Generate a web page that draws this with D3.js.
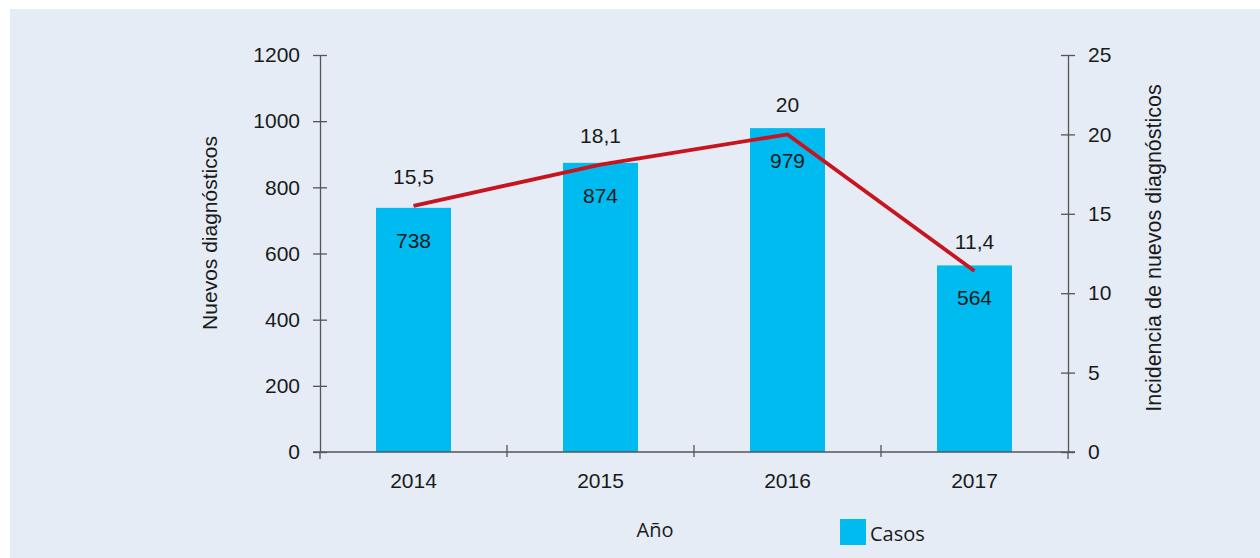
<!DOCTYPE html>
<html lang="es">
<head>
<meta charset="UTF-8">
<script src="https://d3js.org/d3.v7.min.js"></script>
<style>
  body { margin: 0; background: #fff; }
  text { font-family: "Liberation Sans", Arial, sans-serif; fill: #1a1a1a; }
</style>
</head>
<body>
<svg id="chart" width="1260" height="558"></svg>
<script>
// datos
var years = ['2014', '2015', '2016', '2017'];
var casos = [738, 874, 979, 564];
var incidencia = [15.5, 18.1, 20, 11.4];
var leftTicks = [0, 200, 400, 600, 800, 1000, 1200];
var rightTicks = [0, 5, 10, 15, 20, 25];

var svg = d3.select('#chart');
var fs = '21px';

svg.append('rect')
    .attr('x', 10).attr('y', 9)
    .attr('width', 1250).attr('height', 549)
    .attr('fill', '#e5ecf5');

var plotLeft = 320, plotRight = 1068, plotTop = 55, plotBottom = 452;

var x = d3.scaleBand().domain(years).range([plotLeft, plotRight]).paddingInner(0).paddingOuter(0);
var yL = d3.scaleLinear().domain([0, 1200]).range([plotBottom, plotTop]);
var yR = d3.scaleLinear().domain([0, 25]).range([plotBottom, plotTop]);

var barW = 75;

// barras
svg.selectAll('.bar')
    .data(casos)
    .enter().append('rect')
    .attr('class', 'bar')
    .attr('x', function(d, i){ return x(years[i]) + x.bandwidth()/2 - barW/2; })
    .attr('y', function(d){ return yL(d); })
    .attr('width', barW)
    .attr('height', function(d){ return plotBottom - yL(d); })
    .attr('fill', '#00bbf0');

// ejes
var axisColor = '#555';
function styleAxis(g){
    g.selectAll('path, line').attr('stroke', axisColor).attr('stroke-width', 1.3);
    g.selectAll('text').style('font-size', fs).attr('fill', '#1a1a1a');
}

var gL = svg.append('g')
    .attr('transform', 'translate(' + plotLeft + ',0)')
    .call(d3.axisLeft(yL).tickValues(leftTicks).tickFormat(d3.format('d'))
        .tickSize(7).tickSizeOuter(0).tickPadding(13));
gL.selectAll('.tick line').attr('x2', 7).attr('x1', -7);
styleAxis(gL);

var gR = svg.append('g')
    .attr('transform', 'translate(' + plotRight + ',0)')
    .call(d3.axisRight(yR).tickValues(rightTicks).tickFormat(d3.format('d'))
        .tickSize(7).tickSizeOuter(0).tickPadding(13));
gR.selectAll('.tick line').attr('x1', -7).attr('x2', 7);
styleAxis(gR);

var gX = svg.append('g')
    .attr('transform', 'translate(0,' + plotBottom + ')')
    .call(d3.axisBottom(x).tickSize(0).tickPadding(20));
gX.select('.domain').remove();
gX.append('line')
    .attr('x1', plotLeft - 7).attr('x2', plotRight + 7)
    .attr('stroke', axisColor).attr('stroke-width', 1.3);
// marcas entre categorías
var seps = years.slice(1).map(function(d){ return x(d); });
gX.selectAll('.sep')
    .data(seps)
    .enter().append('line')
    .attr('class', 'sep')
    .attr('x1', function(d){ return d; })
    .attr('x2', function(d){ return d; })
    .attr('y1', -7).attr('y2', 5)
    .attr('stroke', axisColor).attr('stroke-width', 1.3);
gX.selectAll('.edge')
    .data([plotLeft, plotRight])
    .enter().append('line')
    .attr('x1', function(d){ return d; })
    .attr('x2', function(d){ return d; })
    .attr('y1', 0).attr('y2', 7)
    .attr('stroke', axisColor).attr('stroke-width', 1.3);
styleAxis(gX);
gX.selectAll('.tick text').attr('dy', null).attr('y', 36);

// línea de incidencia
var line = d3.line()
    .x(function(d, i){ return x(years[i]) + x.bandwidth()/2; })
    .y(function(d){ return yR(d); });

svg.append('path')
    .datum(incidencia)
    .attr('d', line)
    .attr('fill', 'none')
    .attr('stroke', '#c8141f')
    .attr('stroke-width', 3.8)
    .attr('stroke-linejoin', 'miter');

// etiquetas
svg.selectAll('.lbl-bar')
    .data(casos)
    .enter().append('text')
    .attr('x', function(d, i){ return x(years[i]) + x.bandwidth()/2; })
    .attr('y', function(d){ return yL(d) + 40; })
    .attr('text-anchor', 'middle')
    .style('font-size', fs)
    .text(function(d){ return d; });

svg.selectAll('.lbl-line')
    .data(incidencia)
    .enter().append('text')
    .attr('x', function(d, i){ return x(years[i]) + x.bandwidth()/2; })
    .attr('y', function(d){ return yR(d) - 22; })
    .attr('text-anchor', 'middle')
    .style('font-size', fs)
    .text(function(d){ return String(d).replace('.', ','); });

// títulos de ejes
svg.append('text')
    .attr('transform', 'translate(217,233) rotate(-90)')
    .attr('text-anchor', 'middle')
    .style('font-size', fs)
    .text('Nuevos diagnósticos');

svg.append('text')
    .attr('transform', 'translate(1161,248) rotate(-90)')
    .attr('text-anchor', 'middle')
    .style('font-size', '21.5px')
    .text('Incidencia de nuevos diagnósticos');

svg.append('text')
    .attr('x', 655).attr('y', 537)
    .attr('text-anchor', 'middle')
    .style('font-family', '"Open Sans", sans-serif')
    .style('font-size', '20px')
    .text('Año');

// leyenda
svg.append('rect')
    .attr('x', 840).attr('y', 519)
    .attr('width', 26).attr('height', 26)
    .attr('fill', '#00bbf0');
svg.append('text')
    .attr('x', 870).attr('y', 541)
    .style('font-family', '"Open Sans", sans-serif')
    .style('font-size', '20px')
    .text('Casos');
</script>
</body>
</html>
